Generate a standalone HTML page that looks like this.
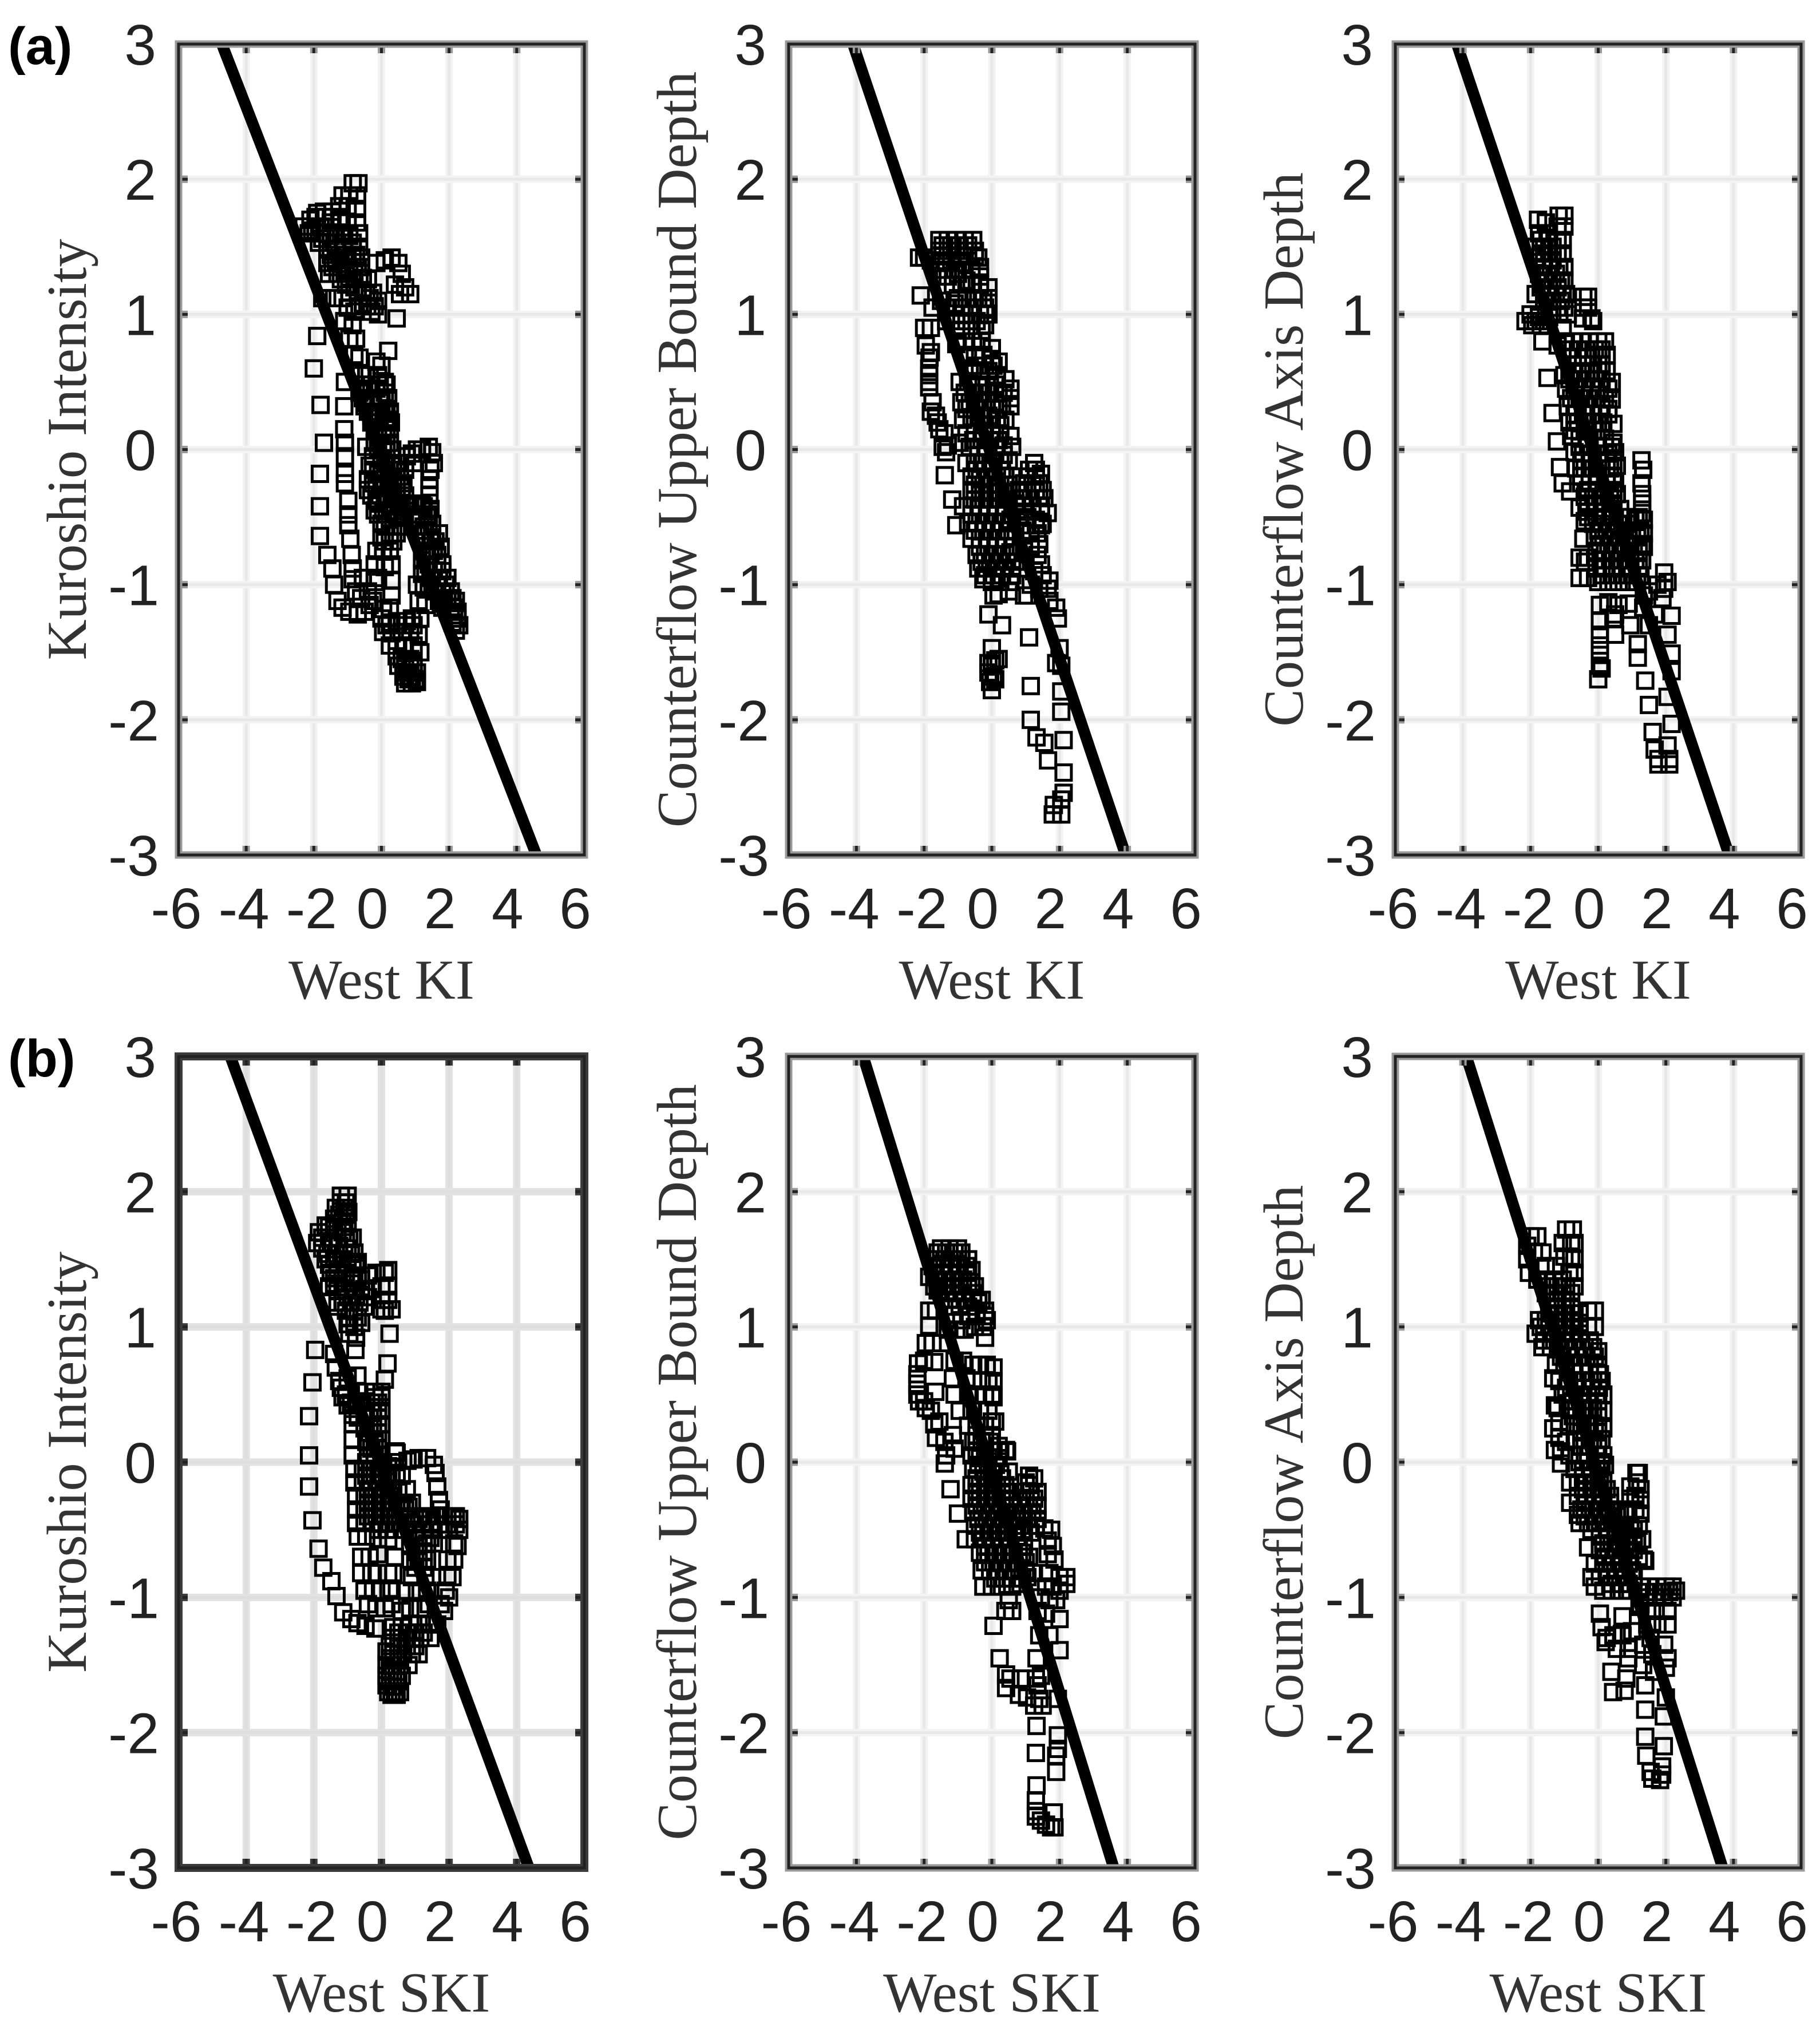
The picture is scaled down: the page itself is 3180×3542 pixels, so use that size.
<!DOCTYPE html>
<html lang="en">
<head>
<meta charset="utf-8">
<title>West KI and West SKI scatter panels</title>
<style>
html,body{margin:0;padding:0;background:#fff}
svg{display:block}
</style>
</head>
<body>
<svg id="chart" xmlns="http://www.w3.org/2000/svg" width="3180" height="3542" viewBox="0 0 3180 3542"></svg>
<script>
const xTickValues = [-6,-4,-2,0,2,4,6];
const yTickValues = [3,2,1,0,-1,-2,-3];
const rowLetters = ["(a)","(b)"];
const rowXTitles = ["West KI","West SKI"];
const columnYTitles = ["Kuroshio Intensity","Counterflow Upper Bound Depth","Counterflow Axis Depth"];

// fitted line: x value where it crosses y=3 and y=-3
const fitA1 = [-4.72,4.58];
const fitA2 = [-4.1,3.95];
const fitA3 = [-4.18,3.87];
const fitB1 = [-4.47,4.36];
const fitB2 = [-3.8,3.6];
const fitB3 = [-3.9,3.68];

const pointsA1 = [[-.85,1.97],[-.68,1.97],[-1.15,1.88],[-.95,1.88],[-.72,1.88],[-1.25,1.8],[-1,1.8],[-.72,1.78],[-.72,1.68],[-.66,1.6],[-.66,1.5],[-.6,1.42],
[-2.3,1.65],[-2.1,1.7],[-1.9,1.75],[-1.7,1.76],[-1.45,1.76],[-2.05,1.62],[-1.8,1.65],[-1.5,1.68],[-1.25,1.7],[-1,1.68],[-1.75,1.56],[-1.5,1.58],[-1.2,1.6],[-.95,1.58],
[-1.6,1.48],[-1.35,1.48],[-1.1,1.5],[-.85,1.5],[-1.6,1.38],[-1.35,1.4],[-1.1,1.4],[-.85,1.42],[-.6,1.35],[-1.55,1.3],[-1.3,1.3],[-1.05,1.32],[-.8,1.3],[-.55,1.27],[-1.05,1.22],[-.8,1.2],[-.55,1.18],[-.35,1.12],[-.55,1.08],[-.3,1.02],[-.1,1],[-.1,1.1],
[-.15,1.38],[.1,1.4],[.3,1.42],[.5,1.38],[.6,1.3],[.7,1.2],[.85,1.15],[.55,1.15],[.4,1.22],[.45,.97],
[-1.75,1.12],[-1.4,1.12],[-1.15,1.12],[-1,1.05],[-.8,1.02],[-1.1,.95],[-.85,.92],[-.75,.82],[-.95,.82],[-.8,.7],[-.65,.68],
[-1.9,.84],[-2,.6],[-1.8,.33],[-1.7,.05],[-1.82,-.18],[-1.82,-.42],[-1.82,-.64],[-1.6,-.78],[-1.45,-.88],[-1.4,-1],[-1.3,-1.12],[-1.15,-1.17],[-.95,-1.2],[-.7,-1.22],
[-1.08,.5],[-1.1,.32],[-1.1,.15],[-1.08,.05],[-1.08,-.05],[-1.08,-.18],[-1.08,-.25],[-.98,-.38],[-.98,-.48],[-.98,-.56],[-.92,-.66],[-.88,-.78],[-.85,-.88],[-.85,-.96],[-.75,-1.05],[-.6,-1.1],[-.4,-1.05],[-.2,-.98],[-.55,-.95],[-.35,-1.15],[-.5,-1.2],[-.25,-1.12],
[.2,.73],[0,.62],[-.15,.65],[-.45,.55],
[-.6,.55],[-.35,.55],[-.1,.55],[.1,.5],[-.65,.42],[-.4,.45],[-.15,.45],[.1,.42],[-.5,.32],[-.25,.35],[0,.35],[.15,.3],[-.3,.25],[-.05,.25],[.2,.22],[-.2,.15],[.05,.12],[.25,.15],[-.2,.05],[.05,.02],[.25,.05],[-.45,.02],[-.25,-.05],[0,-.08],[-.35,-.12],[-.1,-.18],[.15,-.1],[.35,-.12],[.55,-.1],[-.4,-.22],[-.15,-.28],[.1,-.22],[.35,-.22],[.55,-.2],[.7,-.15],[-.4,-.3],[-.15,-.38],[.1,-.35],[.35,-.32],[.6,-.28],[-.2,-.45],[.05,-.45],[.3,-.42],[.55,-.42],[0,-.55],[.25,-.52],[.5,-.5],[0,-.65],[.25,-.62],[.45,-.62],
[.75,-.05],[.9,-.03],[1.05,0],[1.2,0],[1.4,.02],[1.5,-.02],[1.55,-.1],[.95,-.1],[1.45,-.15],[1.42,-.22],[1.42,-.28],[1.42,-.34],
[.6,-.42],[.85,-.42],[1.05,-.42],[1.25,-.42],[1.45,-.44],[1.35,-.5],[1.5,-.55],[1.15,-.52],[1.3,-.6],[1.5,-.65],[1.7,-.62],[1.2,-.68],[1.35,-.75],[1.55,-.75],[1.75,-.72],[1.2,-.82],[1.4,-.85],[1.65,-.85],[1.8,-.85],[1.2,-.92],[1.45,-.95],[1.7,-.95],[1.95,-.95],[1.05,-1],[1.25,-1.02],[1.55,-1.05],[1.8,-1.05],[2.05,-1.05],[1.1,-1.12],[1.3,-1.15],[1.7,-1.12],[1.95,-1.12],[2.2,-1.12],[2.05,-1.2],[2.25,-1.2],[2.1,-1.28],[2.3,-1.3],[2.2,-1.34],
[-.15,-.75],[.05,-.75],[.25,-.75],[-.2,-.85],[.1,-.87],[.3,-.85],[-.1,-.95],[.3,-.97],[.3,-1.08],[.25,-1.17],[.05,-1.18],
[0,-1.25],[.25,-1.28],[.5,-1.27],[.75,-1.27],[.9,-1.25],[1.15,-1.25],[.05,-1.35],[.3,-1.36],[.6,-1.35],[.85,-1.35],[1.1,-1.37],[.25,-1.45],[.45,-1.45],[.65,-1.45],[.95,-1.45],[.45,-1.53],[.6,-1.55],[.85,-1.55],[1.15,-1.5],[.5,-1.6],[.7,-1.62],[.95,-1.6],[.65,-1.68],[.85,-1.68],[1.05,-1.65],[.7,-1.73],[.9,-1.73],[1.05,-1.72]];
const coreA1 = [[-1.95,1.72],[-1.7,1.72],[-1.45,1.72],[-1.2,1.72],[-2.15,1.6],[-1.95,1.6],[-1.65,1.6],[-1.35,1.6],[-1.1,1.6],[-1.85,1.53],[-1.6,1.53],[-1.35,1.53],[-1.1,1.53],[-.85,1.53],[-1.5,1.44],[-1.25,1.44],[-1,1.44],[-.75,1.44],[-1.45,1.35],[-1.2,1.35],[-.95,1.35],[-.7,1.35],[-1.2,1.26],[-.95,1.26],[-.65,1.26],[-.4,1.26],[-.95,1.16],[-.7,1.16],[-.45,1.16],[-.25,1.16],[-.65,1.06],[-.42,1.06],[-.2,1.06],
[-.55,.48],[-.3,.48],[-.05,.48],[.15,.48],[-.55,.38],[-.3,.38],[-.05,.38],[.2,.38],[-.4,.28],[-.15,.28],[.1,.28],[.25,.28],[-.3,.2],[-.1,.2],[.12,.2],[.28,.2],[-.1,.1],[.15,.1],[-.1,0],[.15,0],[.32,0],[-.25,-.15],[0,-.15],[.25,-.15],[.45,-.15],[-.25,-.25],[0,-.25],[.25,-.25],[.45,-.25],[.65,-.25],[-.3,-.34],[-.05,-.34],[.2,-.34],[.45,-.34],[.7,-.34],[-.1,-.4],[.15,-.4],[.4,-.4],[.7,-.4],[.95,-.4],[1.2,-.4],[-.1,-.48],[.15,-.48],[.4,-.48],[.65,-.48],[.9,-.48],[1.15,-.48],[1.4,-.48],[.1,-.57],[.35,-.57],[.6,-.57],[1.25,-.57],[1.4,-.57],[.1,-.68],[.35,-.68],[1.3,-.68],[1.45,-.68],[1.6,-.68],[1.3,-.78],[1.45,-.78],[1.65,-.78],[1.3,-.9],[1.55,-.9],[1.8,-.9],[1.4,-1],[1.65,-1],[1.9,-1],[1.85,-1.1],[2.1,-1.1],[1.8,-1.17],[2.15,-1.17],[2.15,-1.25],[2.25,-1.25],[.75,-1.65],[.95,-1.65],[.8,-1.7],[1,-1.7],[.7,-1.58],[.95,-1.58],[.15,-1.3],[.45,-1.3],[.7,-1.3],[.95,-1.3]];

const pointsA2 = [[-1.55,1.55],[-1.3,1.55],[-1.05,1.55],[-.8,1.55],[-.55,1.55],[-1.55,1.47],[-1.3,1.47],[-1.05,1.47],[-.8,1.47],[-.5,1.47],
[-2.15,1.42],[-2,1.42],[-1.8,1.4],[-1.5,1.38],[-1.2,1.4],[-.9,1.38],[-.4,1.42],[-.35,1.35],[-.35,1.28],[-1.6,1.28],[-1.3,1.28],[-1,1.3],[-.75,1.25],[-.1,1.2],[-.1,1.12],
[-2.1,1.14],[-1.75,1.05],[-1.5,1.1],[-1.3,1.05],[-1.1,1.08],[-.9,1.05],[-.65,1.05],[-.4,1.12],[-.2,1.05],[-.1,1],[-1.35,.95],[-1.05,.95],[-.75,.95],[-.45,.95],[-.2,.92],
[-2,.9],[-1.8,.9],[-1.95,.77],[-1.8,.72],[-1.84,.68],[-1.85,.6],[-1.85,.55],[-1.85,.5],[-1.85,.46],[-1.75,.35],[-1.8,.28],[-1.65,.25],[-1.6,.2],[-1.55,.15],[-1.4,.12],[-1.45,.02],[-1.3,.03],[-1.35,-.02],[-1.39,-.19],[-1.17,-.37],[-1.05,-.56],
[-1.05,.78],[-.8,.8],[-.55,.8],[-.3,.8],[0,.75],[-.8,.7],[-.5,.68],[-.25,.7],[0,.67],[.2,.65],[-.65,.6],[-.35,.58],[-.1,.58],[.15,.55],[.4,.52],[.55,.45],
[-.95,.5],[-.7,.5],[-.4,.48],[-.15,.47],[.1,.48],[.35,.42],[.55,.38],[-.9,.35],[-.65,.35],[-.4,.36],[-.15,.35],[.1,.35],[.3,.33],[.55,.32],[-.85,.22],[-.6,.24],[-.35,.25],[-.1,.25],[.15,.22],[.4,.22],[-.75,.12],[-.5,.12],[-.25,.12],[0,.12],[.25,.12],[-.95,.05],[-.65,.02],[-.4,.02],[-.15,.02],[.1,.02],[.35,.03],[.55,.1],[.6,.02],
[-.75,-.1],[-.5,-.1],[-.25,-.1],[0,-.1],[.25,-.08],[.5,-.08],[-.6,-.2],[-.35,-.22],[-.1,-.2],[.15,-.2],[.4,-.2],[-.6,-.3],[-.35,-.32],[-.1,-.32],[.15,-.32],[.4,-.32],[-.85,-.42],[-.6,-.42],[-.35,-.42],[-.1,-.42],[.15,-.42],[.4,-.42],[-.7,-.54],[-.45,-.54],[-.2,-.54],[.05,-.54],[.3,-.54],[.55,-.52],[-.6,-.66],[-.35,-.66],[-.1,-.66],[.15,-.66],[.4,-.66],[-.45,-.78],[-.2,-.78],[.05,-.78],[.3,-.78],[.55,-.76],[-.4,-.88],[-.15,-.88],[.1,-.88],[.35,-.88],[.6,-.88],[.85,-.88],[-.25,-.96],[0,-.98],[.25,-.98],[.55,-.98],
[.05,-1.08],[.2,-1.07],[.5,-1.05],[-.1,-1.22],[.3,-1.3],
[0,-1.47],[.1,-1.56],[-.1,-1.58],[0,-1.6],[.2,-1.55],[-.1,-1.65],[.05,-1.68],[-.05,-1.72],[.1,-1.7],[0,-1.78],
[1.25,-.1],[.85,-.2],[1.05,-.2],[1.3,-.2],[1.45,-.18],[.8,-.3],[1.05,-.3],[1.3,-.3],[1.5,-.3],[.7,-.4],[.95,-.42],[1.2,-.42],[1.45,-.42],[1.65,-.47],[.8,-.5],[1.05,-.5],[1.3,-.52],[1.5,-.55],[.9,-.6],[1.15,-.62],[1.35,-.62],[1.4,-.7],[1.15,-.72],[.95,-.75],[1.35,-.78],[1.45,-.85],[1.25,-.9],[1.5,-.93],[1.7,-.97],[1.15,-1],[1.4,-1.03],[1.65,-1.03],[.95,-1.08],[1.05,-1.08],[1.7,-1.12],[1.9,-1.17],[1.95,-1.25],
[1.1,-1.39],[2,-1.47],[1.9,-1.58],[2.05,-1.6],[1.15,-1.75],[2.05,-1.79],[2.05,-1.94],[1.15,-2],[1.32,-2.13],[2.12,-2.15],[1.55,-2.17],[1.66,-2.3],[2.12,-2.39],[2.12,-2.54],[1.83,-2.63],[2.05,-2.59],[1.8,-2.7],[2.05,-2.7]];
const coreA2 = [[-1.45,1.51],[-1.2,1.51],[-.95,1.51],[-.7,1.51],[-1.45,1.43],[-1.2,1.43],[-.95,1.43],[-.7,1.43],[-.5,1.43],[-1.4,1.33],[-1.1,1.33],[-.85,1.33],[-.6,1.33],[-1.15,1.22],[-.9,1.22],[-.6,1.22],[-.35,1.22],[-1,1.12],[-.75,1.12],[-.5,1.12],[-.25,1.12],[-.9,1],[-.6,1],[-.35,1],[-.15,1],[-.9,.88],[-.6,.88],[-.3,.88],[-.5,.62],[-.2,.62],[.05,.62],[-.8,.42],[-.55,.42],[-.3,.42],[-.05,.42],[.2,.42],[-.75,.3],[-.5,.3],[-.25,.3],[0,.3],[.2,.3],[-.5,.18],[-.25,.18],[0,.18],[.25,.18],[-.55,.07],[-.3,.07],[-.05,.07],[.2,.07],[-.4,-.04],[-.15,-.04],[.1,-.04],[.35,-.04],[-.45,-.15],[-.2,-.15],[.05,-.15],[.3,-.15],[-.5,-.26],[-.25,-.26],[0,-.26],[.25,-.26],[.5,-.26],[-.5,-.37],[-.25,-.37],[0,-.37],[.25,-.37],[.5,-.37],[-.6,-.48],[-.35,-.48],[-.1,-.48],[.15,-.48],[.4,-.48],[-.5,-.6],[-.25,-.6],[0,-.6],[.25,-.6],[.5,-.6],[-.35,-.72],[-.1,-.72],[.15,-.72],[.4,-.72],[.65,-.72],[-.3,-.83],[-.05,-.83],[.2,-.83],[.45,-.83],[.7,-.83],[-.2,-.93],[.05,-.93],[.3,-.93],[.6,-.93],[1.1,-.15],[1.3,-.15],[.95,-.25],[1.2,-.25],[1.4,-.25],[.9,-.36],[1.15,-.36],[1.4,-.36],[1.55,-.36],[.95,-.46],[1.2,-.46],[1.45,-.46],[1.05,-.56],[1.3,-.56],[1.45,-.56]];

const pointsA3 = [[-1.78,1.7],[-1.55,1.68],[-1.17,1.73],[-1,1.73],[-1.75,1.6],[-1.5,1.6],[-1.2,1.65],[-1,1.65],[-1.85,1.5],[-1.6,1.5],[-1.35,1.5],[-1.05,1.55],[-1.85,1.42],[-1.6,1.4],[-1.35,1.4],[-1.05,1.45],[-1.75,1.3],[-1.5,1.3],[-1.25,1.3],[-1,1.35],[-1.7,1.2],[-1.45,1.2],[-1.2,1.2],[-1,1.25],[-1.85,1.15],[-1.6,1.1],[-1.35,1.1],[-1.1,1.1],[-.95,1.15],[-2.15,.95],[-2,1],[-1.75,.98],[-1.95,.92],[-1.7,.92],[-1.45,.98],[-1.15,1],[-.9,1],[-1.05,.9],
[-.44,1.13],[-.3,1.13],[-.44,1.05],[-.3,1.05],[-.45,.97],[-.2,.97],[-.15,.95],
[-1.65,.8],[-1.2,.77],[-1.5,.53],[-1.35,.27],[-1.22,.06],[-1.13,-.13],[-1.05,-.25],[-.83,-.31],
[-1,.8],[-.75,.8],[-.5,.8],[-.25,.8],[0,.8],[.2,.8],[-.9,.68],[-.6,.68],[-.3,.68],[0,.7],[.25,.7],[-1,.55],[-.75,.58],[-.5,.58],[-.25,.58],[0,.58],[.25,.58],[.4,.5],[-.95,.45],[-.7,.45],[-.45,.45],[-.2,.45],[.05,.45],[.3,.45],[.4,.37],[-.9,.32],[-.65,.32],[-.4,.32],[-.15,.32],[.1,.32],[.3,.3],[-.85,.2],[-.6,.2],[-.35,.2],[-.1,.2],[.15,.2],[.45,.19],[-.8,.1],[-.55,.08],[-.3,.08],[-.05,.08],[.2,.08],[.45,.05],[-.7,-.02],[-.45,-.03],[-.2,-.03],[.05,-.03],[.3,-.03],[.5,-.02],[-.65,-.14],[-.4,-.14],[-.15,-.14],[.1,-.14],[.35,-.14],[.55,-.12],[-.5,-.25],[-.25,-.25],[0,-.25],[.25,-.25],[.5,-.25],[-.4,-.35],[-.15,-.35],[.1,-.35],[.35,-.35],[.55,-.33],
[-.55,-.43],[-.35,-.46],[-.1,-.46],[.15,-.46],[.4,-.46],[.65,-.44],[-.4,-.53],[-.15,-.55],[.1,-.55],[.35,-.55],[.6,-.55],[.85,-.55],[1.1,-.52],[1.35,-.52],
[1.28,-.08],[1.33,-.15],[1.28,-.25],[1.3,-.33],[1.3,-.4],[1.3,-.47],
[-.1,-.65],[.15,-.65],[.4,-.65],[.65,-.65],[.9,-.65],[1.15,-.65],[1.35,-.62],[-.44,-.66],[-.55,-.8],[-.3,-.8],[-.39,-.83],[-.05,-.75],[.2,-.75],[.45,-.75],[.7,-.75],[.95,-.75],[1.2,-.75],[1.35,-.72],
[-.55,-.95],[-.3,-.95],[-.05,-.88],[.2,-.88],[.45,-.88],[.7,-.88],[.95,-.88],[1.2,-.88],[0,-.98],[.3,-.98],[.6,-.98],[.9,-.98],[1.15,-.98],
[1.95,-.91],[2.05,-.98],[1.75,-1],[1.5,-1.05],[1.95,-1.03],[1.35,-1.08],[1.9,-1.1],[.05,-1.15],[.3,-1.13],[.6,-1.15],[.9,-1.14],[1.33,-1.17],[2.17,-1.23],[1.67,-1.22],
[.05,-1.27],[.45,-1.25],[.5,-1.22],[.5,-1.37],[.95,-1.3],[1.5,-1.3],[2.05,-1.37],[.05,-1.37],[.05,-1.45],[.05,-1.52],[.05,-1.6],[.1,-1.62],[0,-1.7],[1.17,-1.44],[1.17,-1.54],[2.17,-1.51],[2.17,-1.64],[1.39,-1.71],[2.05,-1.83],[1.5,-1.89],[2.17,-2.03],[1.61,-2.09],[2.05,-2.19],[1.67,-2.22],[1.78,-2.29],[2.1,-2.29],[1.78,-2.33],[2.1,-2.33]];
const coreA3 = [[-1.7,1.55],[-1.45,1.55],[-1.2,1.55],[-1.7,1.45],[-1.45,1.45],[-1.2,1.45],[-1.65,1.35],[-1.4,1.35],[-1.15,1.35],[-1.6,1.25],[-1.35,1.25],[-1.1,1.25],[-1.5,1.15],[-1.25,1.15],[-1.05,1.15],[-1.45,1.05],[-1.2,1.05],[-1,1.05],[-1.85,.95],[-1.6,.95],
[-.85,.74],[-.6,.74],[-.35,.74],[-.1,.74],[.1,.74],[-.75,.63],[-.45,.63],[-.15,.63],[.1,.63],[-.85,.52],[-.6,.52],[-.35,.52],[-.1,.52],[.1,.52],[-.8,.38],[-.55,.38],[-.3,.38],[-.05,.38],[.2,.38],[-.7,.26],[-.45,.26],[-.2,.26],[.05,.26],[.3,.26],[-.7,.14],[-.4,.14],[-.15,.14],[.1,.14],[-.55,.02],[-.3,.02],[-.05,.02],[.2,.02],[.4,.02],[-.5,-.08],[-.25,-.08],[0,-.08],[.25,-.08],[.45,-.08],[-.5,-.2],[-.25,-.2],[0,-.2],[.25,-.2],[.45,-.2],[-.3,-.3],[-.05,-.3],[.2,-.3],[.45,-.3],[-.3,-.4],[-.05,-.4],[.2,-.4],[.45,-.4],[-.3,-.5],[-.05,-.5],[.2,-.5],[.45,-.5],[.7,-.5],[.95,-.5],[1.2,-.5],[0,-.6],[.25,-.6],[.5,-.6],[.75,-.6],[1,-.6],[1.25,-.6],[.05,-.7],[.3,-.7],[.55,-.7],[.8,-.7],[1.05,-.7],[1.3,-.7],[.1,-.82],[.35,-.82],[.6,-.82],[.85,-.82],[1.1,-.82],[1.3,-.82],[.1,-.93],[.4,-.93],[.7,-.93],[1,-.93],[1.25,-.93]];

const pointsB1 = [[-1.2,1.97],[-1,1.97],[-1.35,1.88],[-1.1,1.88],[-.98,1.85],[-1.4,1.8],[-1.15,1.78],[-1,1.78],
[-1.85,1.7],[-1.9,1.62],[-1.65,1.75],[-1.4,1.72],[-1.15,1.7],[-.95,1.65],[-1.75,1.58],[-1.5,1.62],[-1.25,1.6],[-1,1.58],[-.8,1.55],[-1.65,1.5],[-1.4,1.5],[-1.15,1.5],[-.85,1.48],[-.7,1.48],[-1.5,1.4],[-1.3,1.42],[-1.05,1.4],[-.8,1.38],
[-1.4,1.32],[-1.15,1.32],[-.9,1.32],[-.6,1.35],[-.4,1.38],[-.15,1.4],[.1,1.4],[.2,1.42],[-1.55,1.3],[-1,1.22],[-.75,1.22],[-.5,1.28],[-.3,1.28],[0,1.3],[.2,1.3],[-1.6,1.18],[-1.3,1.15],[-1.05,1.12],[-.8,1.12],[-.5,1.15],[-.4,1.22],[0,1.2],[.2,1.2],[.3,1.13],[.1,1.12],[0,1.13],
[-1,1.02],[-.8,1],[-.6,1.03],[-.95,.95],[-.75,.92],[.24,.95],
[-.77,.83],[-1.96,.83],[-2.04,.59],[-2.14,.34],[-2.14,.05],[-2.14,-.18],[-2.04,-.43],[-1.86,-.64],[-1.72,-.78],[-1.48,-.88],[-1.33,-.99],[-1.13,-1.11],[-.89,-1.16],[-.71,-1.19],[-.47,-1.21],[-.18,-1.23],
[.18,.73],[.1,.61],[-.71,.64],
[-1.4,.8],[-1.35,.7],[-1.25,.6],[-1.2,.55],[-1.15,.48],[-1,.62],[-1.05,.5],
[-1,.42],[-.75,.42],[-.45,.45],[-.2,.48],[0,.48],[-.85,.35],[-.5,.35],[-.25,.38],[0,.38],[-.5,.25],[-.25,.25],[0,.28],[-.85,.28],[-.45,.15],[-.2,.15],[0,.17],[-.85,.17],[-.4,.05],[-.2,.05],[0,.05],[-.85,.05],[.45,.07],[.4,0],
[-.8,-.05],[-.55,-.05],[-.3,-.05],[-.05,-.05],[.2,-.03],[.45,-.08],[-.8,-.15],[-.55,-.15],[-.3,-.15],[-.05,-.15],[.2,-.12],[-.75,-.25],[-.5,-.25],[-.25,-.25],[0,-.25],[.25,-.25],[.5,-.22],[-.75,-.35],[-.5,-.35],[-.25,-.35],[0,-.35],[.25,-.35],[.55,-.35],[.8,-.33],[-.75,-.45],[-.5,-.45],[-.25,-.45],[0,-.45],[.25,-.45],[.55,-.45],[-.7,-.55],[-.45,-.55],[-.1,-.57],[.2,-.57],[-.6,-.7],[-.35,-.7],[-.1,-.68],[.4,-.7],[-.6,-.82],[-.3,-.82],[-.1,-.82],[.2,-.82],[.35,-.82],[-.5,-.95],[-.25,-.95],[0,-.95],[.3,-.95],[-.4,-1.05],[-.15,-1.08],[.1,-1.08],[.3,-1.05],
[.42,.08],[.77,.01],[.95,.02],[1.1,.03],[1.35,.03],[1.55,-.02],[1.6,-.08],[1.65,-.18],[1.7,-.28],[1.75,-.35],
[.6,-.1],[.75,-.2],[.9,-.3],[.7,-.35],[.85,-.42],[1.1,-.42],[1.35,-.4],[1.6,-.4],[1.85,-.4],[2.1,-.4],[2.3,-.42],[1,-.52],[1.25,-.5],[1.5,-.5],[1.75,-.5],[2,-.5],[2.3,-.5],[.85,-.62],[1.1,-.62],[1.35,-.6],[1.55,-.6],[2.15,-.6],[2.25,-.62],[.85,-.72],[1.1,-.72],[1.35,-.72],[1.95,-.72],[2.15,-.72],[.9,-.85],[1.3,-.85],[1.5,-.85],[1.95,-.85],[2.1,-.85],[.7,-.95],[1.05,-.95],[1.35,-.95],[1.9,-.95],[2,-1],[.6,-1.1],[.85,-1.08],[1.15,-1.08],[1.4,-1.05],[1.75,-1.05],[1.85,-1.1],[.35,-1.22],[.6,-1.22],[.85,-1.2],[1.1,-1.2],[1.4,-1.2],[1.65,-1.2],[.35,-1.3],[.6,-1.3],[.9,-1.3],[1.15,-1.3],[1.45,-1.3],
[.15,-1.4],[.35,-1.42],[.6,-1.42],[.9,-1.42],[1.1,-1.42],[.15,-1.5],[.3,-1.5],[.55,-1.5],[.8,-1.5],[.15,-1.58],[.35,-1.58],[.6,-1.58],[.15,-1.65],[.35,-1.66],[.5,-1.62],[.3,-1.72],[.45,-1.72]];
const coreB1 = [[-1.2,1.92],[-1.05,1.92],[-1.25,1.83],[-1.05,1.83],[-1.55,1.74],[-1.3,1.74],[-1.1,1.74],[-1.75,1.66],[-1.55,1.66],[-1.3,1.66],[-1.05,1.66],[-.85,1.66],[-1.6,1.54],[-1.35,1.54],[-1.1,1.54],[-.9,1.54],[-1.55,1.46],[-1.3,1.46],[-1,1.46],[-.75,1.46],[-1.4,1.36],[-1.15,1.36],[-.9,1.36],[-.7,1.36],[-1.3,1.27],[-1.05,1.27],[-.8,1.27],[-.6,1.27],[-1.15,1.18],[-.9,1.18],[-.65,1.18],[-.95,1.07],[-.7,1.07],
[-.7,.52],[-.45,.52],[-.2,.52],[0,.52],[-.9,.44],[-.6,.44],[-.3,.44],[-.1,.44],[-.7,.33],[-.35,.33],[-.1,.33],[-.35,.22],[-.1,.22],[-.3,.1],[-.1,.1],[-.45,0],[-.2,0],[.05,0],[-.45,-.1],[-.2,-.1],[.05,-.1],[.3,-.1],[-.4,-.2],[-.15,-.2],[.1,-.2],[.35,-.2],[-.4,-.3],[-.15,-.3],[.1,-.3],[.35,-.3],[.6,-.3],[-.4,-.4],[-.15,-.4],[.1,-.4],[.4,-.4],[.65,-.4],[-.1,-.5],[.15,-.5],[.4,-.5],[.7,-.5],
[1.2,-.4],[1.45,-.4],[1.7,-.4],[1.95,-.4],[2.2,-.4],[.95,-.46],[1.2,-.46],[1.45,-.46],[1.7,-.46],[1.95,-.46],[2.2,-.46],[1,-.56],[1.25,-.56],[1.45,-.56],[1,-.66],[1.25,-.66],[1,-.78],[1.25,-.78],
[.25,-1.55],[.45,-1.55],[.25,-1.62],[.45,-1.62],[.2,-1.7],[.4,-1.7],[.55,-1.7],[.25,-1.45],[.5,-1.45],[.5,-1.26],[.75,-1.26],[1,-1.26],[1.25,-1.26],[.25,-1.36],[.5,-1.36],[.75,-1.36],[1,-1.36]];

const pointsB2 = [[-1.6,1.55],[-1.35,1.55],[-1.1,1.55],[-.9,1.55],[-1.75,1.45],[-1.5,1.45],[-1.25,1.45],[-1,1.45],[-.75,1.45],[-.6,1.42],[-1.85,1.37],[-1.6,1.35],[-1.35,1.35],[-1.1,1.35],[-.85,1.35],[-.6,1.33],[-1.6,1.27],[-1.35,1.25],[-1.1,1.25],[-.85,1.25],[-.55,1.25],[-.4,1.18],[-1.2,1.15],[-.95,1.15],[-.7,1.15],[-.45,1.1],[-.2,1.12],[-.15,1.05],
[-1.85,1.12],[-1.65,1.12],[-1.85,1.01],[-1.1,1.09],[-.9,1.05],[-1.3,.98],[-1.05,.98],[-.8,.98],[-.5,1],[-.25,1],[-.2,.92],
[-1.95,.88],[-1.75,.88],[-1.5,.88],[-2.18,.73],[-2,.75],[-1.7,.74],[-2.2,.65],[-2.2,.58],[-2.2,.5],[-2.15,.45],[-2,.45],[-1.95,.4],[-1.8,.38],[-1.67,.52],[-1.7,.28],[-1.55,.3],[-1.65,.18],[-1.4,.15],[-1.15,.2],[-1.35,.05],[-1.1,.1],[-1.39,-.01],
[-1.22,-.2],[-1,-.38],[-.77,-.57],
[-1.1,.75],[-.85,.75],[-.55,.72],[-.35,.72],[-.15,.72],[.05,.7],[-1.15,.62],[-1.1,.5],[-.75,.62],[-.55,.6],[-.3,.6],[-.1,.6],[.05,.6],[-.7,.5],[-.45,.5],[-.2,.5],[0,.5],[.05,.48],[-.95,.38],[-.6,.38],[-.35,.38],[-.1,.38],[.1,.3],[-.7,.27],[-.45,.27],[-.2,.27],[0,.3],[-.55,.15],[-.3,.15],[-.05,.15],[.2,.12],[.45,.08],[.42,.09],[-.6,.05],[-.35,.03],[-.1,.03],[.2,.03],[-.55,-.05],[-.25,-.07],[0,-.07],[.25,-.07],[.5,-.07],[-.6,-.17],[-.35,-.17],[-.1,-.17],[.15,-.17],[.4,-.17],[-.6,-.27],[-.35,-.27],[-.1,-.27],[.15,-.27],[.4,-.27],[.6,-.27],[-.55,-.37],[-.3,-.37],[-.05,-.37],[.2,-.37],[.45,-.37],[.7,-.37],[-.5,-.47],[-.25,-.47],[0,-.47],[.25,-.47],[.5,-.47],[.75,-.47],[-.5,-.57],[-.25,-.57],[0,-.57],[.25,-.57],[.5,-.57],[.75,-.55],[-.35,-.67],[-.1,-.67],[.15,-.67],[.4,-.67],[.65,-.67],[.9,-.67],[-.3,-.8],[-.05,-.8],[.2,-.8],[.45,-.8],[.7,-.8],[1.05,-.85],[-.25,-.92],[0,-.92],[.3,-.92],[.6,-.92],[.85,-.9],[.5,-1.02],[.4,-1.1],[.6,-1.1],[.05,-1.21],
[1.1,-.1],[1,-.15],[1.25,-.12],[.9,-.22],[1.15,-.22],[1.35,-.22],[.85,-.32],[1.1,-.32],[1.35,-.32],[1.05,-.42],[1.35,-.42],[.95,-.5],[1.15,-.52],[1.55,-.49],[1.75,-.5],[1.65,-.58],[1.8,-.62],[1.65,-.68],[1.85,-.72],[.95,-.62],[1.1,-.7],[1,-.8],[1.2,-.82],[1.7,-.82],[2,-.85],[2.2,-.85],[2.2,-.9],[2,-.95],[1.8,-.92],[1.6,-.92],[1.45,-1],[1.7,-1.02],[1.9,-1.02],[1.35,-1.1],[1.6,-1.12],[2,-1.16],[1.4,-1.28],[1.7,-1.28],[2,-1.39],
[.23,-1.45],[.42,-1.57],[.55,-1.6],[.85,-1.6],[.42,-1.67],[.8,-1.72],[1.04,-1.74],[1.3,-1.6],[1.45,-1.58],[1.32,-1.45],[1.35,-1.65],[1.4,-1.75],[1.25,-1.8],[1.5,-1.8],[1.32,-1.95],[1.95,-1.75],[1.95,-2.02],[1.95,-2.12],[1.9,-2.17],[1.3,-2.15],[1.9,-2.29],[1.32,-2.39],[1.3,-2.5],[1.3,-2.58],[1.3,-2.62],[1.83,-2.59],[1.45,-2.65],[1.6,-2.68],[1.75,-2.7],[1.85,-2.7]];
const coreB2 = [[-1.5,1.58],[-1.25,1.58],[-1,1.58],[-1.65,1.5],[-1.4,1.5],[-1.15,1.5],[-.9,1.5],[-.7,1.5],[-1.7,1.4],[-1.45,1.4],[-1.2,1.4],[-.95,1.4],[-.7,1.4],[-1.7,1.3],[-1.45,1.3],[-1.2,1.3],[-.95,1.3],[-.7,1.3],[-.5,1.3],[-1.05,1.2],[-.8,1.2],[-.55,1.2],[-.3,1.2],[-.7,1.08],[-.45,1.08],[-.2,1.08],
[-.45,.2],[-.2,.2],[0,.2],[-.45,.08],[-.2,.08],[.05,.08],[.25,.08],[-.4,-.02],[-.12,-.02],[.12,-.02],[-.45,-.12],[-.2,-.12],[.05,-.12],[.3,-.12],[-.45,-.22],[-.2,-.22],[.05,-.22],[.3,-.22],[.5,-.22],[-.45,-.32],[-.2,-.32],[.05,-.32],[.3,-.32],[.55,-.32],[-.4,-.42],[-.15,-.42],[.1,-.42],[.35,-.42],[.6,-.42],[.85,-.42],[-.35,-.52],[-.1,-.52],[.15,-.52],[.4,-.52],[.65,-.52],[.9,-.52],[-.2,-.62],[.05,-.62],[.3,-.62],[.55,-.62],[.8,-.62],[-.2,-.74],[.05,-.74],[.3,-.74],[.55,-.74],[.8,-.74],[1,-.74],[.1,-.86],[.35,-.86],[.6,-.86],[.9,-.86],[1.1,-.17],[1,-.27],[1.25,-.27],[.95,-.37],[1.2,-.37],[1.1,-.47],[1.3,-.47]];

const pointsB3 = [[-2,1.67],[-1.8,1.67],[-2.1,1.5],[-2.1,1.6],[-1.9,1.55],[-1.65,1.55],[-2.05,1.4],[-1.8,1.35],[-1.55,1.45],
[-.95,1.72],[-.75,1.72],[-1.05,1.62],[-.8,1.62],[-.7,1.62],[-1,1.52],[-.8,1.52],[-.7,1.5],[-.85,1.4],[-.7,1.4],[-1.25,1.45],[-1.55,1.35],[-1.3,1.35],[-1.05,1.35],
[-1.55,1.25],[-1.3,1.25],[-1.05,1.25],[-.8,1.25],[-.7,1.3],[-1.3,1.15],[-1.05,1.15],[-.8,1.15],[-.55,1.1],[-1.75,1.05],[-1.55,1.05],[-1.3,1.05],[-1.05,1.05],[-.8,1.05],[-.55,1.03],[-.3,1.12],[-.1,1.12],[-1.85,.95],[-1.6,.95],[-1.35,.95],[-1.05,.95],[-.8,.95],[-.55,.95],[-.3,1],[-.1,1],[-1.65,.85],[-1.4,.85],[-1.15,.85],[-.9,.85],[-.65,.85],[-.4,.85],[-.15,.85],[0,.82],
[-1.33,.62],[-1.28,.42],[-1.33,.25],[-1.28,.09],[-1.1,-.01],[-.83,-.15],[-.83,-.3],[-.6,-.39],
[-1.25,.72],[-1,.72],[-.75,.72],[-.5,.72],[-.25,.72],[0,.72],[.05,.65],[-1.15,.6],[-.9,.6],[-.65,.6],[-.4,.6],[-.15,.6],[.1,.6],[-1.05,.5],[-.8,.5],[-.55,.5],[-.3,.5],[-.05,.5],[.15,.5],[-1.2,.4],[-.9,.4],[-.65,.4],[-.4,.4],[-.15,.4],[.15,.38],[-1.15,.3],[-.85,.27],[-.6,.27],[-.35,.27],[-.1,.27],[.15,.25],[-1.15,.18],[-.95,.15],[-.65,.17],[-.4,.17],[-.15,.17],[.1,.17],[-1.1,.08],[-.85,.05],[-.55,.05],[-.3,.05],[-.05,.05],[.15,.05],[-.7,-.05],[-.45,-.05],[-.2,-.05],[.05,-.05],[.2,-.02],[-.6,-.15],[-.35,-.15],[-.1,-.15],[.15,-.15],[-.6,-.25],[-.35,-.25],[-.1,-.25],[.15,-.25],[.35,-.25],[-.5,-.35],[-.25,-.35],[0,-.35],[.25,-.35],[.45,-.35],[-.55,-.45],[-.3,-.45],[-.05,-.45],[.2,-.45],[.45,-.45],[.65,-.47],
[1.13,-.08],[1.2,-.08],[1.15,-.15],[.95,-.18],[1.25,-.2],[1.1,-.25],[.95,-.27],[1.25,-.28],[.85,-.35],[1.1,-.35],[.89,-.37],[1.25,-.38],[.7,-.47],[.95,-.47],[1.2,-.47],
[-.3,-.63],[.05,-.55],[.3,-.55],[.55,-.55],[.8,-.55],[1.05,-.55],[1.3,-.57],[.05,-.65],[.3,-.65],[.55,-.65],[.8,-.65],[1.05,-.65],[1.35,-.72],[1.39,-.73],[-.1,-.75],[.15,-.75],[.4,-.75],[.65,-.75],[.9,-.75],[-.2,-.85],[.05,-.85],[.3,-.85],[.55,-.85],[.8,-.85],[1.05,-.85],[-.1,-.92],[.15,-.95],[.4,-.95],[.7,-.95],[.95,-.95],
[2,-.92],[1.75,-.92],[1.5,-.92],[1.25,-.92],[2.2,-.92],[2.3,-.95],[2.2,-1],[1.95,-1],[1.7,-1],[1.4,-1],[1.25,-1.05],[1.45,-1.1],[2.05,-1.1],[1.7,-1.1],[.05,-1.12],[.72,-1.14],[1.22,-1.07],[1.45,-1.2],[1.75,-1.2],[2.05,-1.2],[.1,-1.22],[.25,-1.3],[.45,-1.28],[.7,-1.27],[1,-1.25],[.22,-1.33],[.55,-1.38],[.9,-1.38],[.72,-1.28],[1.33,-1.35],[1.55,-1.3],[1.95,-1.35],[1.6,-1.42],[2.05,-1.45],[2,-1.52],[.89,-1.45],[1.33,-1.5],[1.65,-1.55],[.39,-1.55],[.44,-1.7],[.78,-1.69],[.83,-1.6],[1.39,-1.65],[2,-1.74],[1.39,-1.83],[1.94,-1.88],[1.39,-2.03],[1.94,-2.1],[1.42,-2.17],[1.89,-2.25],[1.55,-2.29],[1.89,-2.31],[1.6,-2.34],[1.83,-2.35]];
const coreB3 = [[-1.45,1.3],[-1.2,1.3],[-.95,1.3],[-1.2,1.2],[-.95,1.2],[-1.45,1.1],[-1.2,1.1],[-.95,1.1],[-.7,1.1],[-1.7,1],[-1.45,1],[-1.2,1],[-.95,1],[-.7,1],[-1.6,.9],[-1.3,.9],[-1,.9],[-.75,.9],[-.5,.9],[-.25,.9],[-1.1,.78],[-.85,.78],[-.6,.78],[-.35,.78],[-.1,.78],[-.75,.66],[-.5,.66],[-.25,.66],[0,.66],[-.95,.55],[-.7,.55],[-.45,.55],[-.2,.55],[.02,.55],[-.75,.45],[-.5,.45],[-.25,.45],[0,.45],[-.75,.34],[-.5,.34],[-.25,.34],[0,.34],[-.5,.22],[-.25,.22],[0,.22],[-.5,.12],[-.25,.12],[0,.12],[-.55,0],[-.3,0],[-.05,0],[.1,0],[-.45,-.1],[-.2,-.1],[.05,-.1],[-.45,-.2],[-.2,-.2],[.05,-.2],[.25,-.2],[-.4,-.3],[-.15,-.3],[.1,-.3],[.35,-.3],[-.4,-.4],[-.15,-.4],[.1,-.4],[.35,-.4],[.55,-.4],[-.2,-.5],[.05,-.5],[.3,-.5],[.55,-.5],[.8,-.5],[1.05,-.5],[.15,-.6],[.4,-.6],[.65,-.6],[.9,-.6],[1.15,-.6],[.2,-.7],[.45,-.7],[.7,-.7],[.95,-.7],[1.2,-.7],[.25,-.8],[.5,-.8],[.75,-.8],[1,-.8],[.4,-.9],[.65,-.9],[.9,-.9],[1.4,-.96],[1.65,-.96],[1.9,-.96],[2.1,-.96]];

const NS = "http://www.w3.org/2000/svg";
const svg = document.getElementById("chart");
const columnEdges = [{l:312,r:1021},{l:1378,r:2088},{l:2438,r:3147}];
const rowEdges = [{t:77,b:1494},{t:1846,b:3264}];

function make(tag, attrs, parent, text) {
  const el = document.createElementNS(NS, tag);
  for (const k in attrs) el.setAttribute(k, attrs[k]);
  if (text !== undefined) el.textContent = text;
  parent.appendChild(el);
  return el;
}

function drawPanel(rowIdx, colIdx, points, core, fit, heavy) {
  const L = columnEdges[colIdx].l, R = columnEdges[colIdx].r;
  const T = rowEdges[rowIdx].t, B = rowEdges[rowIdx].b;
  const xAxis = v => L + (v + 6) * (R - L) / 12;
  const yAxis = v => T + (3 - v) * (B - T) / 6;
  const key = "abc"[rowIdx] + (colIdx + 1);

  const g = make("g", {}, svg);
  
  

  const clipId = "clip-" + key;
  const defs = make("defs", {}, g);
  const cp = make("clipPath", {id: clipId}, defs);
  make("rect", {x: L, y: T, width: R - L, height: B - T}, cp);

  const gridOuter = heavy ? "#e2e2e2" : "#f3f3f3";
  const gridInner = heavy ? "#dedede" : "#e8e8e8";
  const gridGroup = make("g", {}, g);
  
  
  xTickValues.slice(1, -1).forEach(v => {
    [[13, gridOuter], [5, gridInner]].forEach(s => {
      make("line", {x1: xAxis(v), x2: xAxis(v), y1: T, y2: B, stroke: s[1], "stroke-width": s[0]}, gridGroup);
    });
  });
  yTickValues.slice(1, -1).forEach(v => {
    [[13, gridOuter], [5, gridInner]].forEach(s => {
      make("line", {x1: L, x2: R, y1: yAxis(v), y2: yAxis(v), stroke: s[1], "stroke-width": s[0]}, gridGroup);
    });
  });

  const markGroup = make("g", {}, g);
  
  
  points.concat(core).forEach(p => {
    const square = make("rect", {x: xAxis(p[0]) - 13.5, y: yAxis(p[1]) - 13.5, width: 27, height: 27, fill: "none", stroke: "#000", "stroke-width": 5}, markGroup);
    
    
  });

  const slope = (fit[1] - fit[0]) / (-3 - 3);
  const fitAt = y => fit[0] + (y - 3) * slope;
  const fitLine = make("line", {x1: xAxis(fitAt(3.2)), y1: yAxis(3.2), x2: xAxis(fitAt(-3.2)), y2: yAxis(-3.2), stroke: "#000", "stroke-width": 20, "clip-path": "url(#" + clipId + ")"}, g);
  
  

  const frameGroup = make("g", {}, g);
  
  
  const outer = heavy ? "#3c3c3c" : "#999";
  const tickDrawer = (x1, y1, x2, y2) => {
    [[13, outer], [5, "#222"]].forEach(s => {
      make("line", {x1, y1, x2, y2, stroke: s[1], "stroke-width": s[0]}, frameGroup);
    });
  };
  xTickValues.slice(1, -1).forEach(v => {
    tickDrawer(xAxis(v), T, xAxis(v), T + 16);
    tickDrawer(xAxis(v), B, xAxis(v), B - 16);
  });
  yTickValues.slice(1, -1).forEach(v => {
    tickDrawer(L, yAxis(v), L + 16, yAxis(v));
    tickDrawer(R, yAxis(v), R - 16, yAxis(v));
  });
  make("rect", {x: L, y: T, width: R - L, height: B - T, fill: "none", stroke: outer, "stroke-width": heavy ? 14 : 13}, frameGroup);
  make("rect", {x: L, y: T, width: R - L, height: B - T, fill: "none", stroke: "#222", "stroke-width": 5}, frameGroup);

  const sans = '"Liberation Sans", sans-serif';
  const serif = '"Liberation Serif", serif';
  xTickValues.forEach(v => {
    const label = make("text", {x: xAxis(v) + (v < 0 ? -4 : -16), y: B + 128, "text-anchor": "middle", "font-family": sans, "font-size": 100, fill: "#222"}, g, String(v));
    
    
  });
  yTickValues.forEach(v => {
    const label = make("text", {x: L + (v < 0 ? -34 : -39), y: yAxis(v) + 36, "text-anchor": "end", "font-family": sans, "font-size": 100, fill: "#222"}, g, String(v));
    
    
  });

  const xTitle = make("text", {x: (L + R) / 2, y: B + 251, "text-anchor": "middle", "font-family": serif, "font-size": 99, fill: "#333"}, g, rowXTitles[rowIdx]);
  
  

  const tx = L - 162, ty = (T + B) / 2;
  const yTitle = make("text", {x: tx, y: ty, "text-anchor": "middle", "font-family": serif, "font-size": 98.5, fill: "#333", transform: "rotate(-90 " + tx + " " + ty + ")"}, g, columnYTitles[colIdx]);
  
  
}

drawPanel(0, 0, pointsA1, coreA1, fitA1, false);
drawPanel(0, 1, pointsA2, coreA2, fitA2, false);
drawPanel(0, 2, pointsA3, coreA3, fitA3, false);
drawPanel(1, 0, pointsB1, coreB1, fitB1, true);
drawPanel(1, 1, pointsB2, coreB2, fitB2, false);
drawPanel(1, 2, pointsB3, coreB3, fitB3, false);

rowLetters.forEach((letter, i) => {
  const t = make("text", {x: 14, y: rowEdges[i].t + 35, "font-family": '"Liberation Sans", sans-serif', "font-weight": "bold", "font-size": 92, fill: "#000"}, svg, letter);
  
  
});
</script>
</body>
</html>
